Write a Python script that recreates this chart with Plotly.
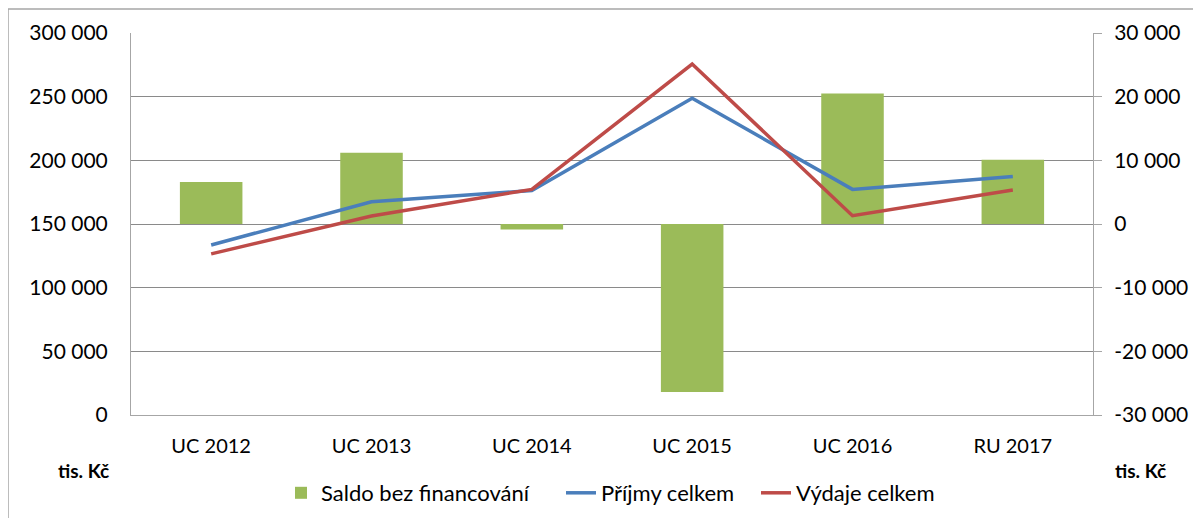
import plotly.graph_objects as go

categories = ["UC 2012", "UC 2013", "UC 2014", "UC 2015", "UC 2016", "RU 2017"]
saldo = [6600, 11200, -850, -26400, 20500, 10100]
prijmy = [133500, 167500, 176300, 248700, 177200, 187300]
vydaje = [126500, 156300, 177200, 275600, 156500, 176700]

left_tickvals = [0, 50000, 100000, 150000, 200000, 250000, 300000]
left_ticktext = ["0", "50 000", "100 000", "150 000", "200 000", "250 000", "300 000"]
right_tickvals = [-30000, -20000, -10000, 0, 10000, 20000, 30000]
right_ticktext = ["-30 000", "-20 000", "-10 000", "0", "10 000", "20 000", "30 000"]

FONT = "Lato"
GRID = "#8A8A8A"
AXIS = "#A6A6A6"

# plot area in page pixels: x 131..1093, y 33..415 (page has 8px body offset)
PX_L, PX_B, PW, PH = 131, 415, 962, 382


def px_x(p):
    return (p - PX_L) / PW


def px_y(p):
    return (PX_B - p) / PH


fig = go.Figure()
fig.add_trace(go.Bar(x=categories, y=saldo, name="Saldo bez financování", yaxis="y",
                     marker=dict(color="#9BBB59", line=dict(width=0)), width=0.39,
                     legend="legend"))
fig.add_trace(go.Scatter(x=categories, y=prijmy, name="Příjmy celkem", mode="lines", yaxis="y2",
                         line=dict(color="#4A7EBB", width=3.5), legend="legend2"))
fig.add_trace(go.Scatter(x=categories, y=vydaje, name="Výdaje celkem", mode="lines", yaxis="y2",
                         line=dict(color="#BE4B48", width=3.5), legend="legend3"))

leg_common = dict(orientation="h", xanchor="left", yanchor="middle", y=px_y(493),
                  font=dict(family=FONT, size=22, color="black"), bgcolor="rgba(0,0,0,0)")

fig.update_layout(
    template="none",
    width=1193, height=510,
    margin=dict(l=123, r=108, t=25, b=103, autoexpand=False),
    paper_bgcolor="white", plot_bgcolor="white",
    font=dict(family=FONT, size=21, color="black"),
    showlegend=True,
    legend=dict(x=px_x(281), **leg_common),
    legend2=dict(x=px_x(561), **leg_common),
    legend3=dict(x=px_x(756), **leg_common),
    xaxis=dict(type="category", showgrid=False, showline=True, linecolor=AXIS, linewidth=1,
               ticks="", tickfont=dict(family=FONT, size=20), ticklabelstandoff=13,
               range=[-0.5, 5.5], zeroline=False, automargin=False),
    yaxis=dict(range=[-30000, 30000], tickvals=right_tickvals, ticktext=right_ticktext,
               side="right", showgrid=True, gridcolor=GRID, gridwidth=1, showline=True,
               linecolor=AXIS, linewidth=1, ticks="outside", ticklen=8, tickcolor=AXIS,
               zeroline=False, ticklabelstandoff=8, automargin=False,
               tickfont=dict(family=FONT, size=21)),
    yaxis2=dict(range=[0, 300000], tickvals=left_tickvals, ticktext=left_ticktext,
                overlaying="y", side="left", showgrid=False, showline=True, linecolor=AXIS,
                linewidth=1, ticks="", zeroline=False, ticklabelstandoff=18, automargin=False,
                tickfont=dict(family=FONT, size=21)),
    shapes=[dict(type="rect", xref="paper", yref="paper", x0=px_x(8), x1=1.3,
                 y0=-0.5, y1=px_y(9), line=dict(color="#A6A6A6", width=1.5),
                 fillcolor="rgba(0,0,0,0)", layer="below")],
    annotations=[
        dict(text="<b>tis. Kč</b>", xref="paper", yref="paper", x=px_x(111), y=px_y(470),
             xanchor="right", yanchor="middle", showarrow=False, font=dict(family=FONT, size=19)),
        dict(text="<b>tis. Kč</b>", xref="paper", yref="paper", x=px_x(1113), y=px_y(470),
             xanchor="left", yanchor="middle", showarrow=False, font=dict(family=FONT, size=19)),
    ],
)

fig.write_html("out.html")
